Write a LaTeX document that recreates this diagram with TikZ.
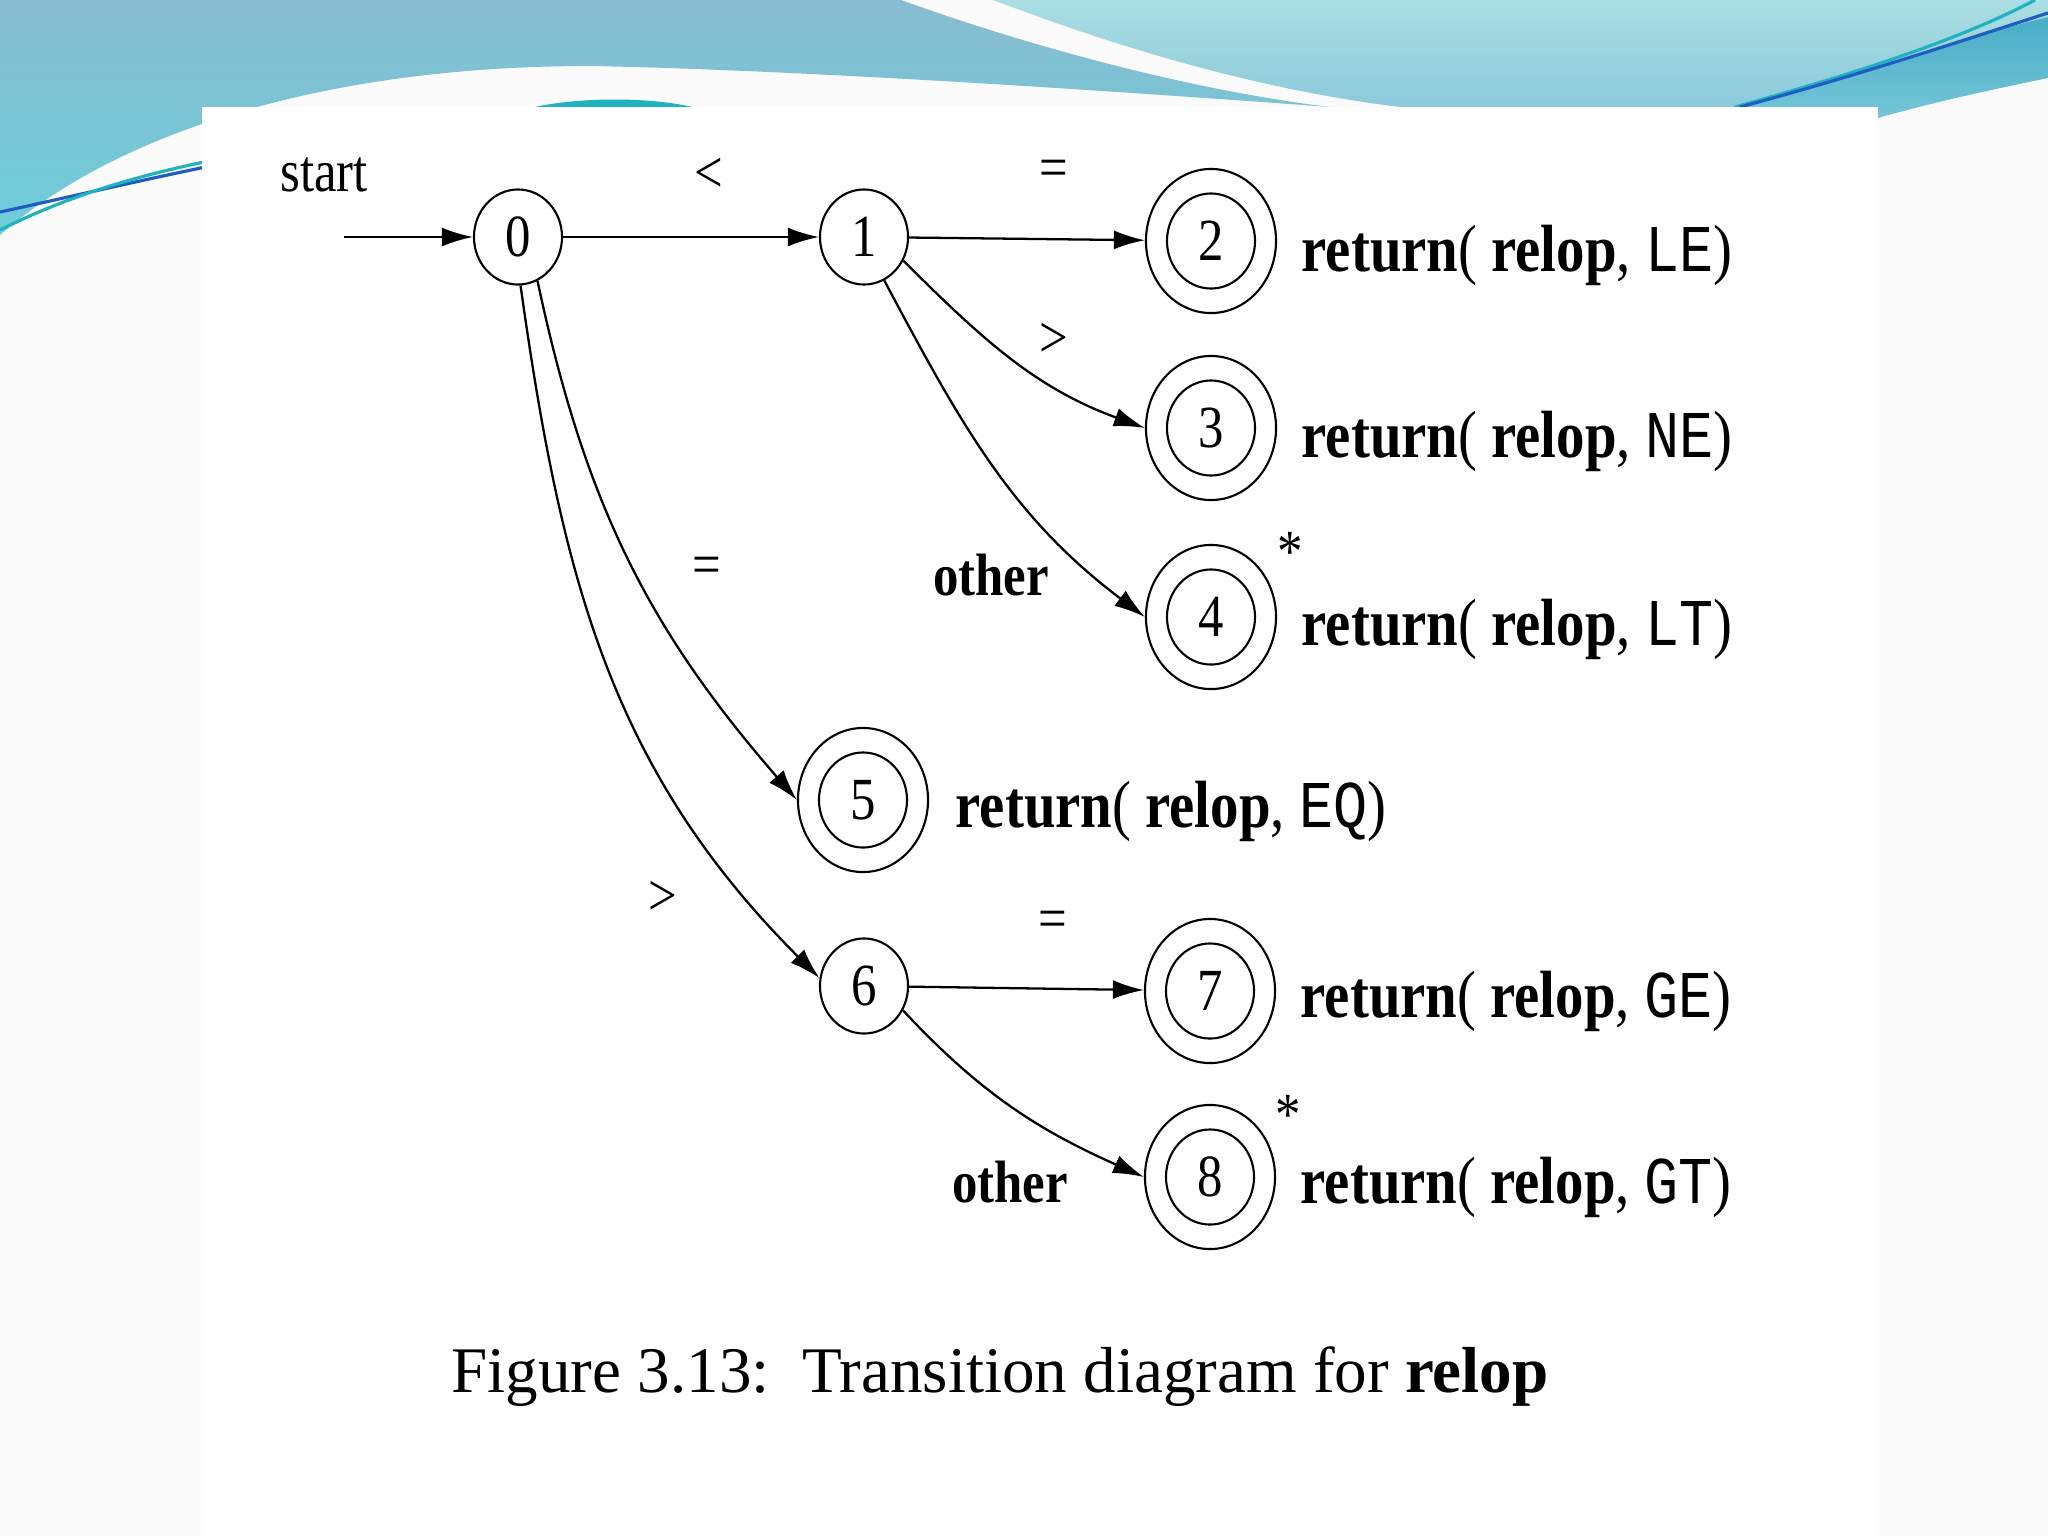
\documentclass[tikz,border=0pt]{standalone}
\usepackage{fontspec}
\setmainfont{Liberation Serif}[FakeStretch=0.85]
\setmonofont{Liberation Mono}[FakeStretch=0.85]
\newfontfamily\capfont{Liberation Serif}
\usetikzlibrary{arrows.meta,shapes.geometric}

\definecolor{darkA}{HTML}{87BCD0}
\definecolor{darkB}{HTML}{6DCDD9}
\definecolor{lightA}{HTML}{AADEE2}
\definecolor{lightB}{HTML}{8BC9DB}
\definecolor{swA}{HTML}{48ADC7}
\definecolor{swB}{HTML}{74C6D6}
\definecolor{lineteal}{HTML}{1FB3C0}
\definecolor{lineblue}{HTML}{1F5CC4}
\definecolor{pagebg}{HTML}{FBFBFB}

\newcommand\retrelop[1]{\textbf{return}( \textbf{relop}, \texttt{#1})}

\begin{document}
\begin{tikzpicture}[x=0.01cm,y=0.01cm,
  state/.style={ellipse, draw, line width=0.6pt, inner sep=0pt,
    minimum width=0.88cm, minimum height=0.95cm,
    font=\fontsize{17}{17}\selectfont},
  accept/.style={state, minimum width=1.30cm, minimum height=1.44cm,
    path picture={\draw[line width=0.6pt] (path picture bounding box.center)
      ellipse [x radius=0.44cm, y radius=0.475cm];}},
  edge/.style={line width=0.65pt, -{Latex[length=0.31cm,width=0.19cm]}},
  lab/.style={inner sep=0pt, font=\fontsize{17}{17}\selectfont},
  blab/.style={inner sep=0pt, font=\fontsize{17}{17}\selectfont\bfseries},
  res/.style={inner sep=0pt, anchor=base west, font=\fontsize{19}{19}\selectfont},
]
\useasboundingbox (0,0) rectangle (2048,-1536);

% slide background
\fill[pagebg] (0,0) rectangle (2048,-1536);
\shade[top color=lightA, bottom color=lightB]
  (993,0) -- (2048,0) -- (2048,-17)
  .. controls (1950,-40) and (1850,-80) .. (1745,-107)
  -- (1400,-107) .. controls (1220,-85) and (1060,-25) .. (993,0) -- cycle;
\shade[top color=darkA, bottom color=darkB]
  (0,0) -- (901,0) .. controls (970,-25) and (1150,-85) .. (1330,-107)
  .. controls (1100,-90) and (800,-70) .. (590,-66)
  .. controls (330,-66) and (120,-130) .. (0,-235) -- cycle;
\fill[lineteal] (535,-107) .. controls (580,-97) and (650,-97) .. (692,-107) -- cycle;
\shade[top color=swA, bottom color=swB]
  (1745,-107) .. controls (1850,-80) and (1950,-40) .. (2048,-17)
  -- (2048,-78) .. controls (1990,-90) and (1930,-103) .. (1878,-118)
  -- (1878,-107) -- cycle;
\draw[lineteal, line width=0.9pt] (1735,-107) .. controls (1850,-75) and (1960,-40) .. (2035,0);
\draw[lineblue, line width=0.9pt] (1740,-107) .. controls (1860,-75) and (1970,-38) .. (2048,-13);
\draw[lineblue, line width=0.9pt] (0,-212) .. controls (70,-197) and (140,-180) .. (240,-160);
\draw[lineteal, line width=0.9pt] (0,-230) .. controls (60,-200) and (130,-175) .. (240,-155);

% figure panel
\fill[white] (202,-107) rectangle (1878,-1536);

% states
\node[state]  (n0) at (518,-237) {0};
\node[state]  (n1) at (864,-237) {1};
\node[accept] (n2) at (1211,-241) {2};
\node[accept] (n3) at (1211,-428) {3};
\node[accept] (n4) at (1211,-617) {4};
\node[accept] (n5) at (863,-800) {5};
\node[state]  (n6) at (864,-986) {6};
\node[accept] (n7) at (1210,-991) {7};
\node[accept] (n8) at (1210,-1177) {8};

% start
\node[lab] (start) at (324,-175) {start};
\coordinate (s0) at (344,-237);

% transitions
\draw[edge] (s0) -- (n0);
\draw[edge] (n0) -- (n1);
\draw[edge] (n1) -- (n2);
\draw[edge] (n1.-31) to[out=-45,in=160] (n3.west);
\draw[edge] (n1.-65) to[out=-62,in=143] (n4.west);
\draw[edge] (n0.-66) to[out=-78,in=131] (n5.west);
\draw[edge] (n0.-87) to[out=-82,in=135] (n6.170);
\draw[edge] (n6) -- (n7);
\draw[edge] (n6.-32) to[out=-47,in=156] (n8.west);

% edge labels
\node[lab]  (lt01)  at (709,-175) {<};
\node[lab]  (eq12)  at (1054,-174) {=};
\node[lab]  (gt13)  at (1054,-340) {>};
\node[blab] (oth14) at (991,-575) {other};
\node[lab]  (eq05)  at (707,-571) {=};
\node[lab]  (gt06)  at (663,-898) {>};
\node[lab]  (eq67)  at (1053,-925) {=};
\node[blab] (oth68) at (1010,-1182) {other};
\node[lab]  (st4)   at (1290,-552) {*};
\node[lab]  (st8)   at (1288,-1115) {*};

% actions
\node[res] (r2) at (1301,-271) {\retrelop{LE}};
\node[res] (r3) at (1301,-457) {\retrelop{NE}};
\node[res] (r4) at (1301,-645) {\retrelop{LT}};
\node[res] (r5) at (955,-827) {\retrelop{EQ}};
\node[res] (r7) at (1300,-1017) {\retrelop{GE}};
\node[res] (r8) at (1300,-1203) {\retrelop{GT}};

% caption
\node[inner sep=0pt, anchor=base, font=\capfont\fontsize{18.5}{18.5}\selectfont]
  (cap) at (1000,-1392) {Figure 3.13:\ \ Transition diagram for \textbf{relop}};
\end{tikzpicture}
\end{document}
